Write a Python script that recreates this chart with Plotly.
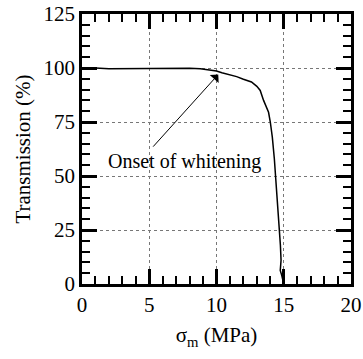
import plotly.graph_objects as go

stress = [0, 1, 2, 3, 4, 5, 6, 7, 8, 8.8, 9.5, 10, 10.4, 11, 11.5, 12, 12.6, 13, 13.25,
          13.5, 13.7, 13.87, 14.0, 14.15, 14.3, 14.4, 14.5, 14.6, 14.69, 14.75, 14.8,
          14.74, 14.85, 15.0]
transmission = [100, 100, 99.6, 99.7, 99.8, 99.9, 100, 100.1, 99.9, 99.7, 99.2, 98.6, 97.8,
                97, 96, 94.8, 93.5, 91.5, 89.6, 85, 82, 79.5, 75, 68, 58, 50, 42, 34, 26.5,
                18, 11, 6.3, 4, 0]

x_ticks = [0, 5, 10, 15, 20]
y_ticks = [0, 25, 50, 75, 100, 125]

FONT = "Liberation Serif"

fig = go.Figure()
fig.add_trace(go.Scatter(x=stress, y=transmission, mode="lines",
                         line=dict(color="black", width=1.5), showlegend=False))

axis_common = dict(
    showline=True, linecolor="black", linewidth=2.5, mirror="allticks",
    ticks="inside", ticklen=15, tickwidth=2.5, tickcolor="black",
    showgrid=True, gridcolor="#777777", griddash="dot", gridwidth=1,
    zeroline=False, automargin=False,
    tickfont=dict(family=FONT, size=21, color="black"),
)

fig.update_xaxes(range=[0, 20], tickvals=x_ticks, ticktext=[str(v) for v in x_ticks],
                 minor=dict(ticks="inside", ticklen=8, tickwidth=1.5, dtick=1,
                            tickcolor="black", showgrid=False),
                 title=dict(text="σ<sub>m</sub> (MPa)", font=dict(family=FONT, size=21, color="black"),
                            standoff=12),
                 **axis_common)
fig.update_yaxes(range=[0, 125], tickvals=y_ticks, ticktext=[str(v) for v in y_ticks],
                 minor=dict(ticks="inside", ticklen=8, tickwidth=1.5, dtick=5,
                            tickcolor="black", showgrid=False),
                 title=dict(text="Transmission (%)", font=dict(family=FONT, size=21, color="black"),
                            standoff=8),
                 **axis_common)

fig.add_annotation(x=10.13, y=97, ax=5.19, ay=62.9, xref="x", yref="y", axref="x", ayref="y",
                   showarrow=True, arrowhead=1, arrowsize=2, arrowwidth=1, arrowcolor="black",
                   text="")
fig.add_annotation(x=7.63, y=56.8, xref="x", yref="y", showarrow=False,
                   text="Onset of whitening", font=dict(family=FONT, size=20, color="black"))

fig.update_layout(width=363, height=359, margin=dict(l=82, r=12, t=14, b=75),
                  font=dict(family=FONT, color="black"),
                  paper_bgcolor="white", plot_bgcolor="white")

fig.write_html("out.html", config={"displayModeBar": False},
               post_script="document.body.style.margin='0';")
